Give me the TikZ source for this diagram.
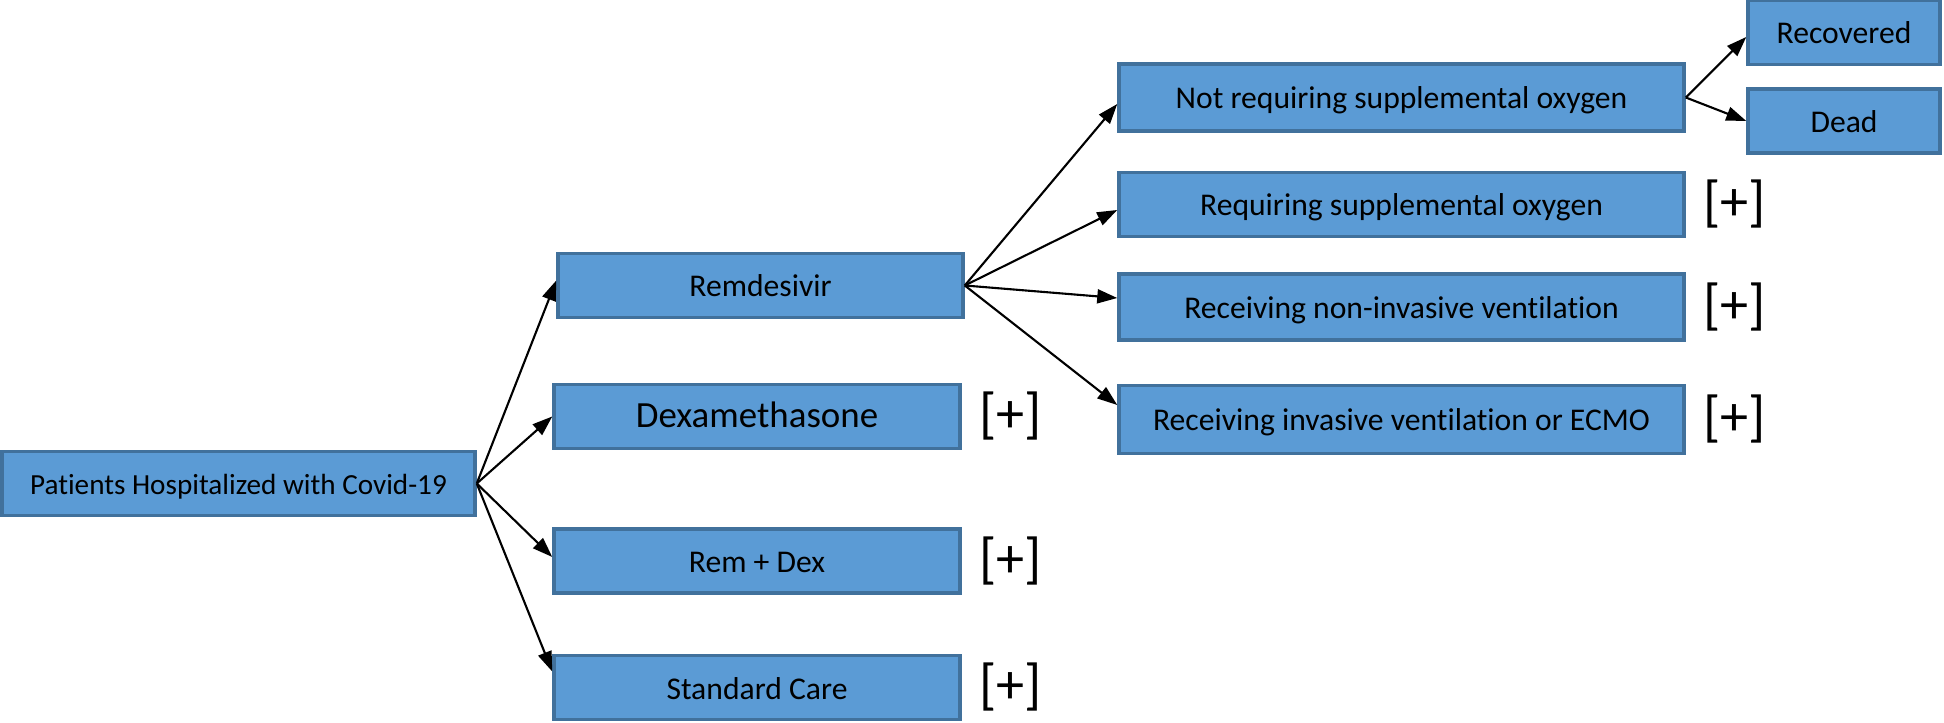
\documentclass[tikz,border=0pt]{standalone}
\usepackage{fontspec}
\setmainfont{Carlito}[RawFeature={-liga;-clig;-dlig;-calt}]
\usepackage{xcolor}
\usetikzlibrary{positioning,arrows.meta}
\definecolor{boxfill}{HTML}{5B9BD5}
\definecolor{boxline}{HTML}{41719C}

\begin{document}
\begin{tikzpicture}[
    box/.style={draw=boxline, line width=1pt, fill=boxfill, inner sep=0pt, minimum height=0.64cm, text height=2.9mm, text depth=0.6mm, font=\fontsize{9}{10}\selectfont},
    plus/.style={inner sep=0pt, font=\fontsize{16}{18}\selectfont},
    arr/.style={line width=0.6pt, -{Triangle[length=0.2cm,width=0.14cm]}}
  ]
  \useasboundingbox (0,0) rectangle (19.44,7.22);

  \node[box, minimum width=4.73cm, font=\fontsize{8.3}{10}\selectfont] (pat) at (2.385,2.385) {Patients Hospitalized with Covid-19};

  % treatments
  \node[box, minimum width=4.05cm] (rem) at (7.605,4.365) {Remdesivir};
  \node[box, minimum width=4.06cm, font=\fontsize{10.5}{12}\selectfont] (dex) at (7.57,3.055) {Dexamethasone};
  \node[box, minimum width=4.06cm] (remdex) at (7.57,1.61) {Rem + Dex};
  \node[box, minimum width=4.06cm] (sc) at (7.57,0.345) {Standard Care};

  % severity
  \node[box, minimum width=5.65cm, minimum height=0.67cm] (notreq) at (14.015,6.245) {Not requiring supplemental oxygen};
  \node[box, minimum width=5.65cm] (req) at (14.015,5.175) {Requiring supplemental oxygen};
  \node[box, minimum width=5.65cm, minimum height=0.66cm] (niv) at (14.015,4.15) {Receiving non-invasive ventilation};
  \node[box, minimum width=5.65cm, minimum height=0.68cm] (inv) at (14.015,3.025) {Receiving invasive ventilation or ECMO};

  % outcomes
  \node[box, minimum width=1.92cm] (rec) at (18.44,6.895) {Recovered};
  \node[box, minimum width=1.92cm] (dead) at (18.44,6.01) {Dead};

  \foreach \t in {dex, remdex, sc, req, niv, inv} {
    \node[plus, right=0.17cm of \t] (\t plus) {[+]};
  }

  % draw arrows
  \foreach \t/\s in {rem/0.05, dex/0, remdex/0.04, sc/0.16} {
    \draw[arr] (pat.east) -- ([yshift=\s cm]\t.west);
  }
  \foreach \t/\s in {notreq/-0.065, req/-0.055, niv/0.09, inv/0.145} {
    \draw[arr] (rem.east) -- ([yshift=\s cm]\t.west);
  }
  \foreach \t/\s in {rec/-0.045, dead/0} {
    \draw[arr] (notreq.east) -- ([yshift=\s cm]\t.west);
  }
\end{tikzpicture}
\end{document}
